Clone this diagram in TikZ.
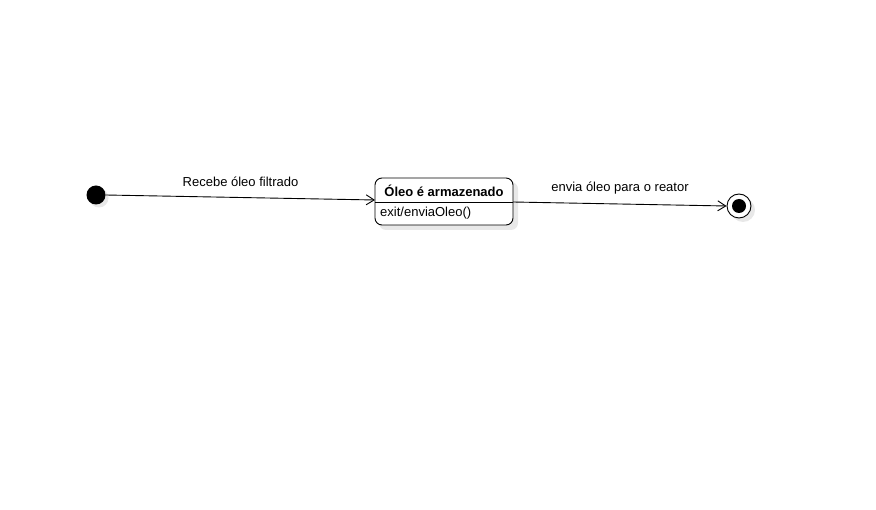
\documentclass[tikz,border=0pt]{standalone}
\usepackage{fontspec}
\setmainfont{Liberation Sans}
\usetikzlibrary{arrows.meta,shapes.multipart}
\begin{document}
\begin{tikzpicture}[x=1pt,y=-1pt,
  every node/.style={font=\fontsize{13}{15}\selectfont},
  shadowc/.style={fill=black!9,draw=none},
  trans/.style={draw=black,line width=0.9pt,-{Straight Barb[length=8pt,width=10pt,line width=0.9pt]}},
  lbl/.style={inner sep=0pt,anchor=center}]
\useasboundingbox (0,0) rectangle (876,510);
% initial state
\fill[shadowc] (99,198) circle (9.5);
\node[circle,fill=black,minimum size=19pt,inner sep=0pt] (init) at (96,195) {};
% state box shadow
\fill[shadowc,rounded corners=7pt] (379,182) rectangle (518,230);
\draw[fill=white,rounded corners=7pt,line width=0.9pt] (375,178) rectangle (513,225);
\coordinate (stW) at (375,200);
\coordinate (stE) at (513,202);
\draw[line width=0.9pt] (375,202) -- (513,202);
\node[lbl,font=\fontsize{13}{15}\selectfont\bfseries] (title) at (444,190.5) {Óleo é armazenado};
\node[lbl,anchor=west] (act) at (380,213.5) {exit/enviaOleo()};
% final state
\fill[shadowc] (743,210) circle (12);
\node[circle,draw=black,fill=white,line width=0.9pt,minimum size=24pt,inner sep=0pt] (final) at (739,206) {};
\node[circle,fill=black,minimum size=14pt,inner sep=0pt] (finalin) at (739,206) {};
% transitions
\draw[trans] (init.east) -- (stW);
\draw[trans] (stE) -- (final.west);
\node[lbl] (l1) at (240.5,181.5) {Recebe óleo filtrado};
\node[lbl] (l2) at (620,188.5) {envia óleo para o reator};
\end{tikzpicture}
\end{document}
